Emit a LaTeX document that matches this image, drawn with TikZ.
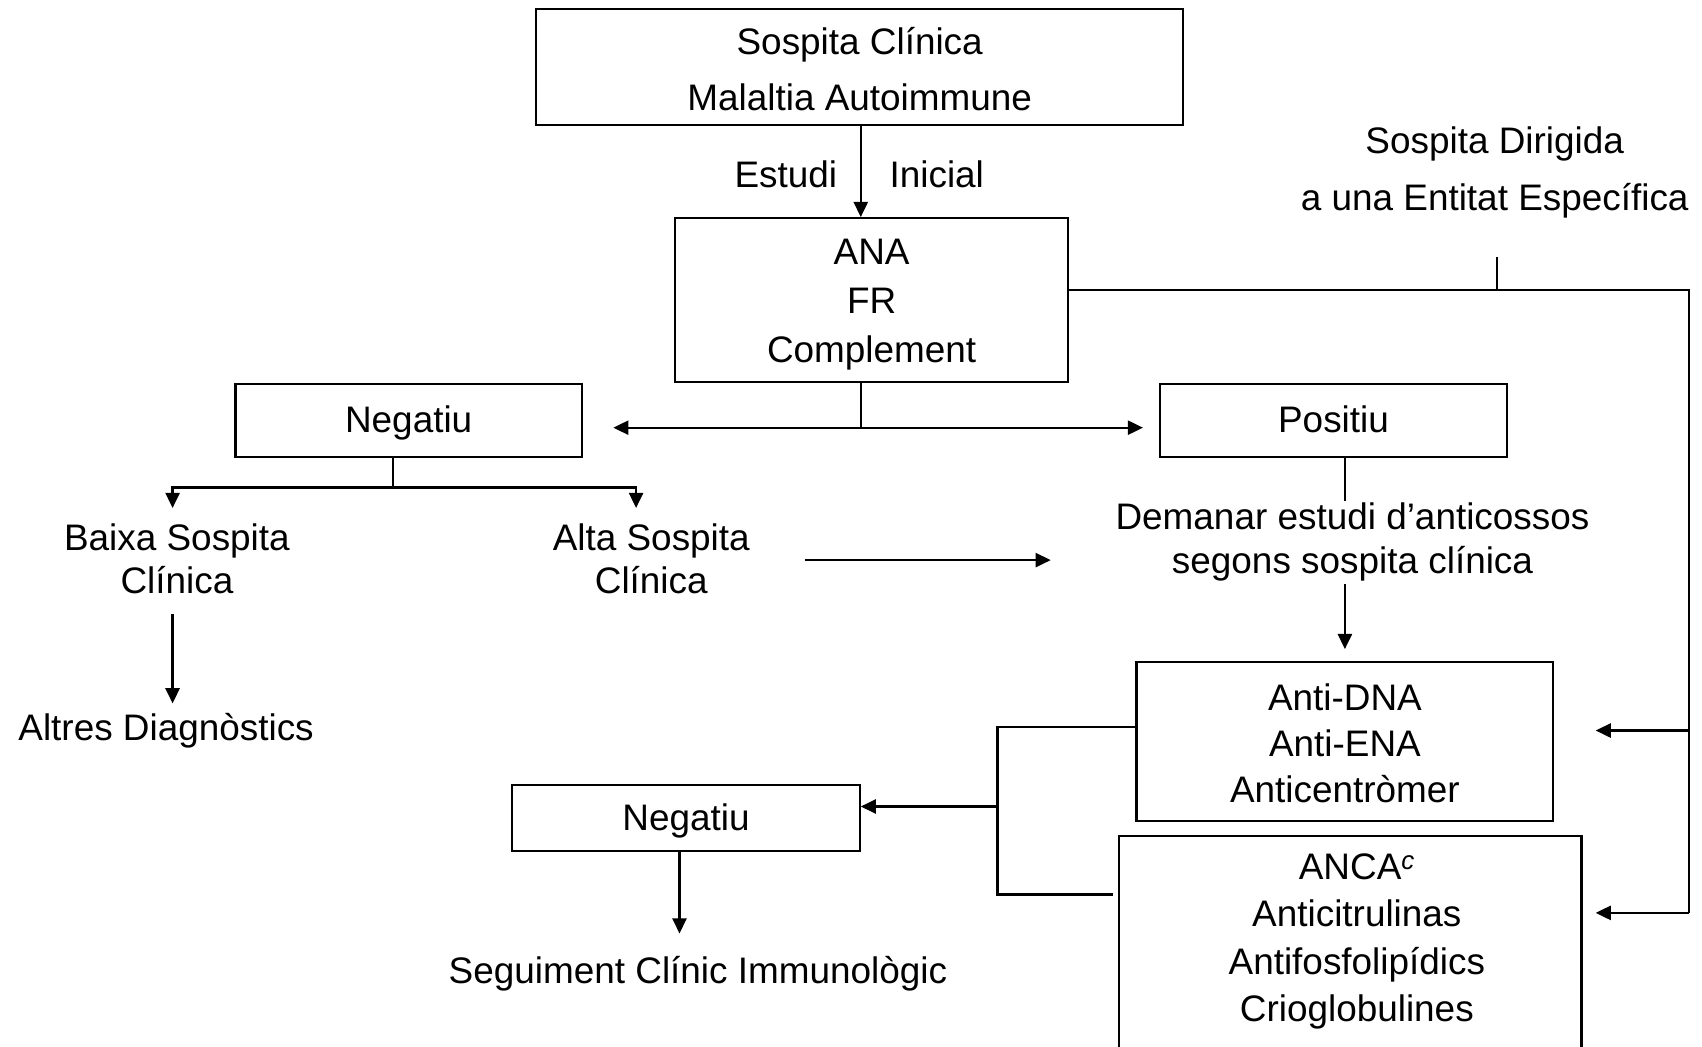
\documentclass[tikz,border=0pt]{standalone}
\usepackage{fontspec}
\setmainfont{Liberation Sans}
\usetikzlibrary{arrows.meta,calc}
\tikzset{
  boxnode/.style={draw, line width=2pt, inner sep=0pt},
  lbl/.style={inner sep=0pt, align=center},
  ln/.style={line width=2.1pt},
  arr/.style={line width=2.1pt, -{Triangle[length=14pt,width=13pt]}},
  darr/.style={line width=2.1pt, {Triangle[length=14pt,width=13pt]}-{Triangle[length=14pt,width=13pt]}},
}
\newcommand{\fs}[1]{\fontsize{34}{#1}\selectfont}
\begin{document}
\begin{tikzpicture}[x=1pt,y=-1pt]
\useasboundingbox (0,0) rectangle (1568,964);
% boxes
\node[boxnode, minimum width=596pt, minimum height=107pt] (top) at (792,61.5) {};
\node[lbl, font=\fs{51}] (topt) at (792,63.5) {Sospita Clínica\\Malaltia Autoimmune};
\node[boxnode, minimum width=362pt, minimum height=151pt] (ana) at (803,276.5) {};
\node[lbl, font=\fs{45}] (anat) at (803,280.5) {ANA\\FR\\Complement};
\node[boxnode, minimum width=319pt, minimum height=67pt] (neg1) at (376.5,387.5) {};
\node[lbl, font=\fs{40}] (neg1t) at (376.5,389.5) {Negatiu};
\node[boxnode, minimum width=319pt, minimum height=67pt] (pos) at (1228.5,387.5) {};
\node[lbl, font=\fs{40}] (post) at (1228.5,386.5) {Positiu};
\node[boxnode, minimum width=384pt, minimum height=146pt] (dna) at (1239,683) {};
\node[lbl, font=\fs{42.5}] (dnat) at (1239,684.5) {Anti-DNA\\Anti-ENA\\Anticentròmer};
\node[boxnode, minimum width=426pt, minimum height=220pt] (ancabox) at (1244,880) {};
\node[lbl, font=\fs{43.7}] (anca) at (1250,867.5) {ANCA\textsuperscript{\textit{c}}\\Anticitrulinas\\Antifosfolipídics\\Crioglobulines};
\node[boxnode, minimum width=320pt, minimum height=61pt] (neg2) at (632,753.5) {};
\node[lbl, font=\fs{40}] (neg2t) at (632,756.5) {Negatiu};
% labels
\node[lbl, font=\fs{40}] (estudi) at (724,161) {Estudi};
\node[lbl, font=\fs{40}] (inicial) at (863,161) {Inicial};
\node[lbl, font=\fs{52}] (sd) at (1377,159) {Sospita Dirigida\\a una Entitat Específica};
\node[lbl, font=\fs{40}] (baixa) at (163,515) {Baixa Sospita\\Clínica};
\node[lbl, font=\fs{40}] (alta) at (600,515) {Alta Sospita\\Clínica};
\node[lbl, font=\fs{41}] (demanar) at (1246,499.5) {Demanar estudi d’anticossos\\segons sospita clínica};
\node[lbl, font=\fs{40}] (altres) at (153,673) {Altres Diagnòstics};
\node[lbl, font=\fs{40}] (seg) at (643,897) {Seguiment Clínic Immunològic};
% coordinates
\coordinate (split) at (793,394);
\coordinate (nL) at (565,394);
\coordinate (pR) at (1053,394);
\coordinate (nsplit) at (362,449);
\coordinate (bxa) at (159,468);
\coordinate (alt) at (586,468);
\coordinate (bxs) at (159,566);
\coordinate (bxe) at (159,648);
\coordinate (ps) at (1239,421);
\coordinate (pe) at (1239,462);
\coordinate (ds) at (1239,538);
\coordinate (de) at (1239,598);
\coordinate (al1) at (742,516);
\coordinate (al2) at (968,516);
\coordinate (bt) at (919,670);
\coordinate (bm) at (919,743);
\coordinate (bb) at (919,824);
\coordinate (be) at (1025,824);
\coordinate (ns) at (626,784);
\coordinate (ne) at (626,860);
\coordinate (rt) at (1556,267);
\coordinate (r1) at (1556,673);
\coordinate (rb) at (1556,841);
\coordinate (a1) at (1470,673);
\coordinate (a2) at (1470,841);
\coordinate (sdt) at (1379,237);
\coordinate (sdj) at (1379,267);
% connectors
\draw[arr] (top.south -| split) -- (ana.north -| split);
\draw[ln] (ana.south -| split) -- (split);
\draw[darr] (nL) -- (pR);
\draw[ln] (neg1.south -| nsplit) -- (nsplit);
\draw[arr] (nsplit) -| (bxa);
\draw[arr] (nsplit) -| (alt);
\draw[arr] (bxs) -- (bxe);
\draw[arr] (al1) -- (al2);
\draw[ln] (ps) -- (pe);
\draw[arr] (ds) -- (de);
\draw[ln] (dna.west |- bt) -- (bt) -- (bb) -- (be);
\draw[arr] (bm) -- (neg2.east |- bm);
\draw[arr] (ns) -- (ne);
\draw[ln] (ana.east |- rt) -- (rt) -- (rb);
\draw[ln] (sdt) -- (sdj);
\draw[arr] (r1) -- (a1);
\draw[arr] (rb) -- (a2);
\end{tikzpicture}
\end{document}
